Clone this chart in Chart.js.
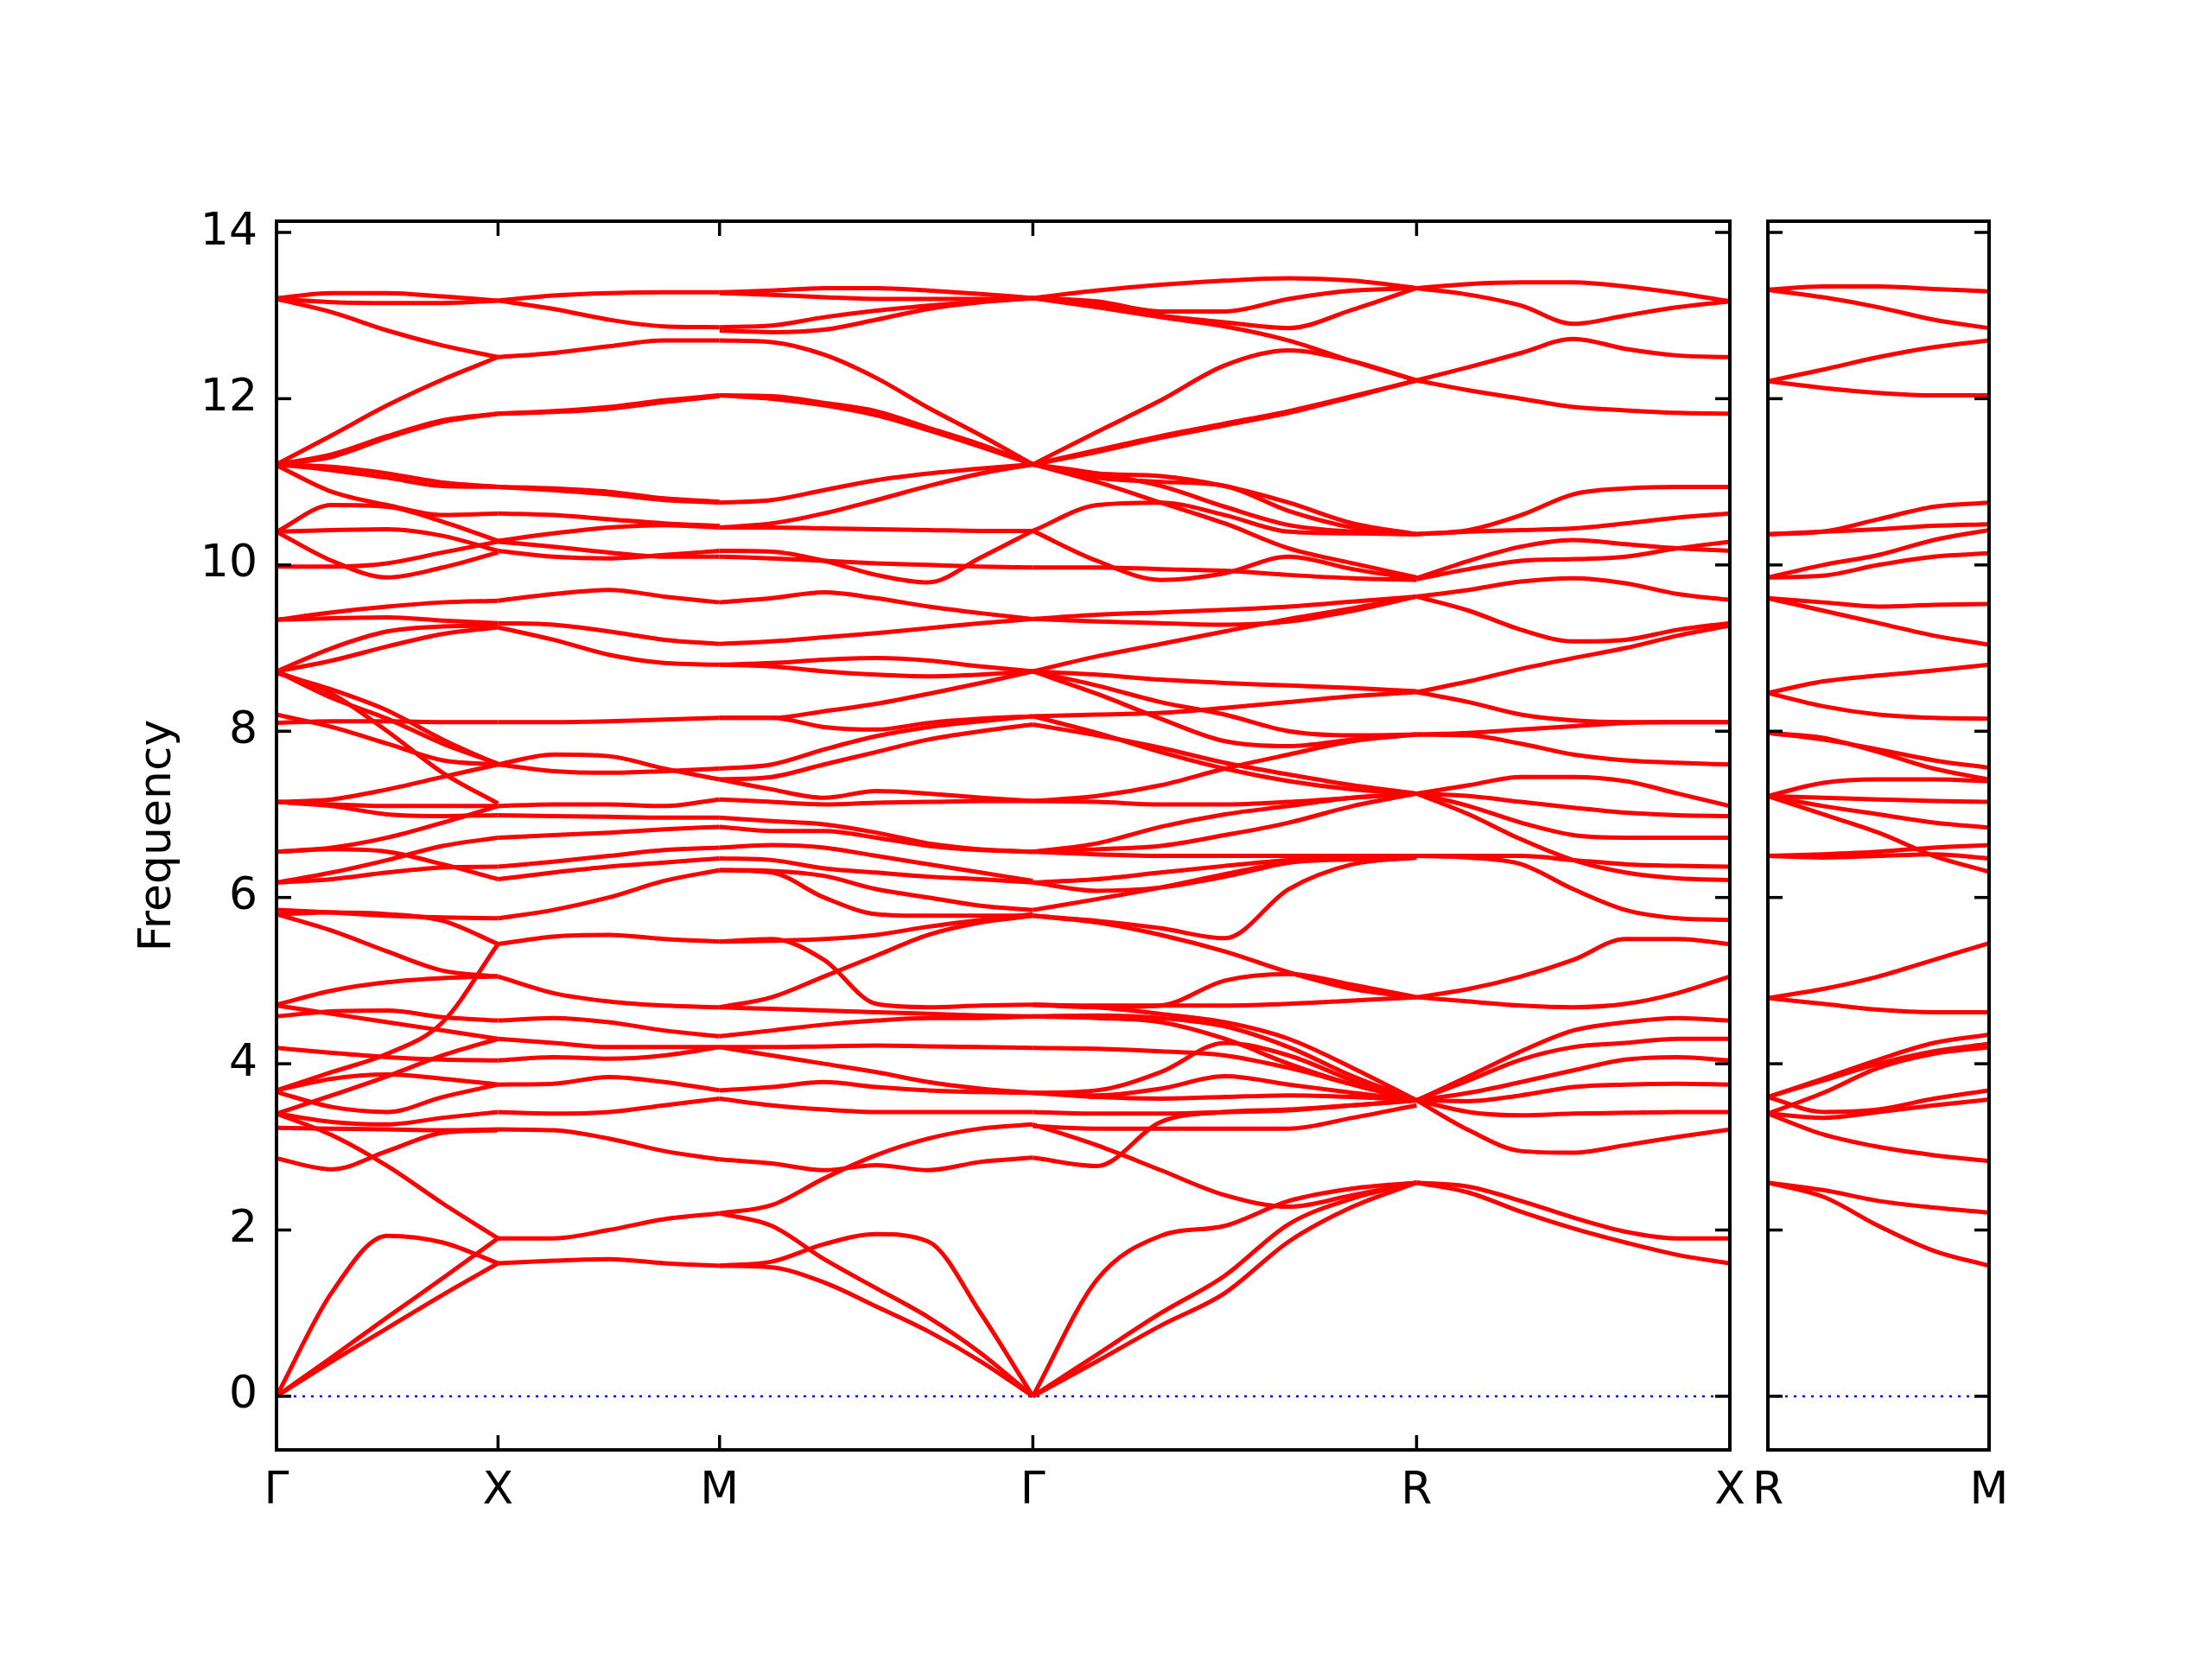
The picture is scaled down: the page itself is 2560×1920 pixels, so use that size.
<!DOCTYPE html>
<html>
<head>
<meta charset="utf-8">
<script src="https://cdn.jsdelivr.net/npm/chart.js@4.4.0/dist/chart.umd.min.js"></script>
<style>
body { margin: 0; background: #fff; }
#wrap { position: relative; width: 2560px; height: 1920px; }
canvas { position: absolute; left: 0; top: 0; }
</style>
</head>
<body>
<div id="wrap">
<canvas id="mainChart" width="2560" height="1920"></canvas>
<canvas id="sideChart" width="2560" height="1920"></canvas>
</div>
<script>
'use strict';
// high symmetry path
let mainLabels = ['Γ', 'X', 'M', 'Γ', 'R', 'X'];
let mainSegLength = [1, 1, Math.SQRT2, Math.sqrt(3), Math.SQRT2];
let sideLabels = ['R', 'M'];
let sideSegLength = [1];
let freqTicks = [0, 2, 4, 6, 8, 10, 12, 14];

// each band: frequencies read at evenly spaced points along the segment
let gammaX = [
    [13.21, 13.27, 13.27, 13.23, 13.18],
    [13.2, 13.16, 13.15, 13.15, 13.18],
    [13.2, 13.04, 12.82, 12.64, 12.5],
    [11.21, 11.56, 11.92, 12.23, 12.5],
    [11.21, 11.33, 11.55, 11.74, 11.82],
    [11.21, 11.3, 11.53, 11.72, 11.82],
    [11.21, 11.18, 11.1, 10.99, 10.94],
    [11.21, 11.14, 11.05, 10.95, 10.94],
    [11.2, 10.88, 10.72, 10.6, 10.62],
    [10.4, 10.72, 10.7, 10.52, 10.29],
    [10.4, 10.42, 10.43, 10.35, 10.17],
    [10.4, 10.05, 9.85, 9.97, 10.15],
    [9.98, 9.98, 10.02, 10.15, 10.28],
    [9.34, 9.43, 9.5, 9.55, 9.57],
    [9.34, 9.36, 9.37, 9.33, 9.3],
    [8.72, 9.0, 9.2, 9.26, 9.27],
    [8.72, 8.85, 9.02, 9.17, 9.25],
    [8.72, 8.4, 8.15, 7.85, 7.61],
    [8.7, 8.5, 8.25, 7.9, 7.6],
    [8.72, 8.45, 8.0, 7.5, 7.13],
    [8.2, 8.05, 7.85, 7.65, 7.6],
    [8.1, 8.12, 8.12, 8.11, 8.11],
    [7.15, 7.18, 7.3, 7.45, 7.6],
    [7.15, 7.12, 7.1, 7.1, 7.1],
    [7.15, 7.1, 7.0, 6.98, 6.99],
    [6.55, 6.6, 6.72, 6.9, 7.1],
    [6.55, 6.58, 6.55, 6.4, 6.22],
    [6.18, 6.3, 6.45, 6.62, 6.72],
    [6.18, 6.22, 6.3, 6.36, 6.37],
    [5.85, 5.82, 5.78, 5.76, 5.75],
    [5.8, 5.82, 5.8, 5.72, 5.44],
    [5.8, 5.6, 5.35, 5.12, 5.05],
    [4.71, 4.88, 4.98, 5.03, 5.05],
    [4.57, 4.63, 4.64, 4.56, 4.52],
    [4.7, 4.6, 4.5, 4.4, 4.3],
    [4.19, 4.13, 4.08, 4.05, 4.04],
    [3.68, 3.9, 4.12, 4.5, 5.44],
    [3.4, 3.62, 3.85, 4.1, 4.3],
    [3.68, 3.82, 3.87, 3.82, 3.75],
    [3.66, 3.48, 3.42, 3.6, 3.75],
    [3.23, 3.22, 3.21, 3.2, 3.21],
    [3.4, 3.14, 2.77, 2.32, 1.9],
    [2.86, 2.73, 2.95, 3.17, 3.2],
    [3.4, 3.3, 3.27, 3.35, 3.42],
    [0, 0.47, 0.95, 1.42, 1.9],
    [0, 0.42, 0.82, 1.22, 1.6],
    [0, 1.25, 1.93, 1.85, 1.6]
];

let xM = [
    [13.18, 13.24, 13.27, 13.28, 13.28],
    [13.18, 13.08, 12.95, 12.87, 12.86],
    [12.5, 12.55, 12.63, 12.7, 12.7],
    [11.82, 11.85, 11.9, 11.98, 12.04],
    [11.82, 11.84, 11.88, 11.96, 12.03],
    [10.94, 10.92, 10.88, 10.8, 10.76],
    [10.94, 10.9, 10.85, 10.78, 10.75],
    [10.62, 10.6, 10.55, 10.5, 10.47],
    [10.29, 10.38, 10.45, 10.48, 10.45],
    [10.17, 10.1, 10.08, 10.12, 10.17],
    [10.28, 10.22, 10.15, 10.1, 10.1],
    [9.57, 9.65, 9.7, 9.62, 9.55],
    [9.3, 9.28, 9.2, 9.1, 9.05],
    [9.25, 9.1, 8.92, 8.82, 8.8],
    [8.11, 8.11, 8.12, 8.14, 8.16],
    [7.6, 7.72, 7.7, 7.55, 7.42],
    [7.6, 7.52, 7.5, 7.52, 7.55],
    [7.1, 7.12, 7.12, 7.1, 7.18],
    [6.99, 6.98, 6.97, 6.96, 6.96],
    [6.72, 6.75, 6.78, 6.82, 6.85],
    [6.37, 6.43, 6.5, 6.57, 6.6],
    [6.22, 6.3, 6.37, 6.42, 6.47],
    [5.75, 5.85, 6.0, 6.2, 6.33],
    [5.44, 5.53, 5.55, 5.5, 5.47],
    [5.05, 4.85, 4.75, 4.7, 4.68],
    [4.52, 4.55, 4.5, 4.4, 4.33],
    [4.3, 4.25, 4.2, 4.2, 4.2],
    [4.04, 4.08, 4.06, 4.1, 4.2],
    [3.75, 3.76, 3.84, 3.78, 3.68],
    [3.42, 3.4, 3.42, 3.5, 3.58],
    [3.21, 3.2, 3.1, 2.95, 2.85],
    [1.9, 1.9, 2.0, 2.13, 2.2],
    [1.6, 1.63, 1.65, 1.6, 1.57]
];

let mGamma = [
    [13.28, 13.3, 13.33, 13.33, 13.3, 13.26, 13.21],
    [13.27, 13.25, 13.22, 13.2, 13.2, 13.2, 13.21],
    [12.86, 12.88, 12.98, 13.06, 13.12, 13.17, 13.21],
    [12.82, 12.8, 12.83, 12.95, 13.08, 13.16, 13.21],
    [12.7, 12.68, 12.53, 12.25, 11.89, 11.56, 11.21],
    [12.04, 12.03, 11.95, 11.85, 11.65, 11.45, 11.21],
    [12.04, 12.0, 11.92, 11.8, 11.62, 11.42, 11.21],
    [10.75, 10.78, 10.9, 11.02, 11.1, 11.16, 11.21],
    [10.45, 10.5, 10.62, 10.78, 10.95, 11.1, 11.21],
    [10.45, 10.45, 10.44, 10.43, 10.42, 10.41, 10.41],
    [10.17, 10.16, 10.05, 9.88, 9.79, 10.09, 10.41],
    [10.1, 10.08, 10.05, 10.02, 10.0, 9.98, 9.97],
    [9.55, 9.6, 9.67, 9.6, 9.5, 9.42, 9.35],
    [9.05, 9.08, 9.13, 9.18, 9.24, 9.3, 9.35],
    [8.8, 8.82, 8.86, 8.88, 8.85, 8.78, 8.72],
    [8.8, 8.78, 8.72, 8.68, 8.66, 8.68, 8.72],
    [8.16, 8.16, 8.24, 8.33, 8.45, 8.58, 8.72],
    [8.16, 8.16, 8.05, 8.02, 8.1, 8.15, 8.18],
    [7.55, 7.6, 7.78, 7.94, 8.05, 8.12, 8.18],
    [7.42, 7.45, 7.6, 7.75, 7.9, 8.0, 8.08],
    [7.42, 7.3, 7.2, 7.28, 7.25, 7.2, 7.16],
    [7.18, 7.15, 7.12, 7.14, 7.15, 7.16, 7.16],
    [6.96, 6.92, 6.88, 6.78, 6.65, 6.58, 6.55],
    [6.85, 6.8, 6.8, 6.72, 6.62, 6.57, 6.55],
    [6.6, 6.63, 6.6, 6.5, 6.4, 6.3, 6.2],
    [6.47, 6.45, 6.35, 6.3, 6.25, 6.22, 6.18],
    [6.33, 6.32, 6.26, 6.1, 6.0, 5.9, 5.85],
    [6.33, 6.3, 6.0, 5.8, 5.78, 5.78, 5.78],
    [5.47, 5.48, 5.5, 5.55, 5.65, 5.73, 5.8],
    [5.47, 5.5, 5.25, 4.72, 4.68, 4.7, 4.71],
    [4.68, 4.8, 5.05, 5.3, 5.55, 5.7, 5.78],
    [4.68, 4.66, 4.64, 4.62, 4.6, 4.58, 4.57],
    [4.33, 4.4, 4.47, 4.52, 4.55, 4.55, 4.57],
    [4.2, 4.2, 4.21, 4.22, 4.21, 4.2, 4.19],
    [4.2, 4.1, 4.0, 3.9, 3.78, 3.7, 3.65],
    [3.68, 3.72, 3.78, 3.72, 3.68, 3.66, 3.65],
    [3.58, 3.5, 3.45, 3.42, 3.42, 3.42, 3.42],
    [2.85, 2.8, 2.72, 2.78, 2.72, 2.82, 2.87],
    [2.2, 2.3, 2.62, 2.9, 3.1, 3.22, 3.27],
    [2.2, 2.05, 1.65, 1.3, 0.95, 0.52, 0],
    [1.57, 1.55, 1.37, 1.08, 0.78, 0.42, 0],
    [1.57, 1.62, 1.83, 1.95, 1.86, 1.0, 0]
];

let gammaR = [
    [13.21, 13.3, 13.37, 13.42, 13.45, 13.42, 13.33],
    [13.21, 13.17, 13.05, 13.05, 13.2, 13.3, 13.33],
    [13.21, 13.13, 13.0, 12.92, 12.85, 13.07, 13.33],
    [13.21, 13.1, 12.98, 12.87, 12.7, 12.45, 12.22],
    [11.21, 11.6, 11.98, 12.4, 12.58, 12.45, 12.22],
    [11.21, 11.38, 11.55, 11.7, 11.85, 12.03, 12.22],
    [11.21, 11.36, 11.53, 11.68, 11.83, 12.02, 12.22],
    [11.21, 11.1, 10.95, 10.7, 10.48, 10.4, 10.37],
    [11.21, 11.05, 11.0, 10.95, 10.65, 10.45, 10.37],
    [11.21, 11.1, 11.07, 10.95, 10.75, 10.5, 10.37],
    [11.21, 11.0, 10.75, 10.5, 10.2, 10.02, 9.85],
    [10.41, 10.72, 10.75, 10.6, 10.4, 10.38, 10.37],
    [10.41, 10.05, 9.82, 9.9, 10.1, 9.95, 9.83],
    [9.97, 9.97, 9.95, 9.93, 9.88, 9.84, 9.82],
    [9.35, 9.4, 9.43, 9.46, 9.5, 9.56, 9.62],
    [9.35, 9.32, 9.3, 9.28, 9.32, 9.45, 9.62],
    [8.72, 8.9, 9.05, 9.2, 9.35, 9.48, 9.62],
    [8.72, 8.68, 8.62, 8.58, 8.55, 8.52, 8.48],
    [8.72, 8.55, 8.35, 8.2, 8.0, 7.95, 7.96],
    [8.72, 8.45, 8.15, 7.88, 7.82, 7.9, 7.96],
    [8.18, 8.2, 8.22, 8.28, 8.35, 8.42, 8.47],
    [8.08, 7.95, 7.8, 7.62, 7.48, 7.35, 7.25],
    [8.18, 7.98, 7.75, 7.55, 7.4, 7.3, 7.25],
    [7.16, 7.22, 7.35, 7.55, 7.72, 7.88, 7.96],
    [7.16, 7.15, 7.12, 7.12, 7.15, 7.2, 7.25],
    [6.55, 6.65, 6.85, 7.0, 7.1, 7.2, 7.25],
    [6.55, 6.58, 6.62, 6.75, 6.9, 7.1, 7.25],
    [6.18, 6.08, 6.12, 6.25, 6.42, 6.5, 6.5],
    [6.18, 6.22, 6.3, 6.38, 6.45, 6.48, 6.5],
    [6.55, 6.52, 6.5, 6.5, 6.5, 6.5, 6.5],
    [5.78, 5.72, 5.63, 5.51, 6.1, 6.4, 6.48],
    [5.85, 5.98, 6.12, 6.28, 6.42, 6.46, 6.48],
    [5.78, 5.7, 5.55, 5.35, 5.1, 4.9, 4.8],
    [4.71, 4.68, 4.7, 5.0, 5.08, 4.95, 4.8],
    [4.71, 4.7, 4.7, 4.7, 4.72, 4.76, 4.8],
    [4.57, 4.55, 4.5, 4.3, 4.0, 3.75, 3.56],
    [4.57, 4.58, 4.55, 4.45, 4.2, 3.85, 3.56],
    [4.71, 4.68, 4.6, 4.5, 4.3, 3.95, 3.56],
    [4.19, 4.18, 4.15, 4.1, 3.95, 3.75, 3.56],
    [3.65, 3.68, 3.9, 4.25, 4.1, 3.8, 3.56],
    [3.65, 3.62, 3.7, 3.85, 3.75, 3.65, 3.56],
    [3.65, 3.6, 3.58, 3.6, 3.62, 3.6, 3.56],
    [3.42, 3.4, 3.4, 3.42, 3.44, 3.5, 3.56],
    [3.25, 3.22, 3.22, 3.22, 3.22, 3.35, 3.5],
    [2.87, 2.77, 3.3, 3.42, 3.45, 3.5, 3.56],
    [3.27, 3.02, 2.72, 2.42, 2.28, 2.42, 2.57],
    [0, 1.4, 1.93, 2.05, 2.35, 2.5, 2.57],
    [0, 0.5, 1.0, 1.45, 2.07, 2.38, 2.57],
    [0, 0.42, 0.85, 1.24, 1.86, 2.28, 2.57]
];

let rX = [
    [13.33, 13.38, 13.4, 13.4, 13.35, 13.27, 13.17],
    [13.33, 13.25, 13.12, 12.9, 13.0, 13.1, 13.17],
    [12.22, 12.38, 12.55, 12.72, 12.6, 12.52, 12.5],
    [12.22, 12.1, 12.0, 11.9, 11.86, 11.83, 11.82],
    [10.37, 10.42, 10.6, 10.85, 10.92, 10.94, 10.94],
    [10.37, 10.4, 10.42, 10.44, 10.5, 10.57, 10.62],
    [9.83, 9.95, 10.05, 10.07, 10.1, 10.2, 10.28],
    [9.84, 10.05, 10.22, 10.3, 10.25, 10.2, 10.17],
    [9.62, 9.7, 9.8, 9.84, 9.78, 9.65, 9.58],
    [9.62, 9.45, 9.22, 9.08, 9.1, 9.22, 9.3],
    [8.47, 8.6, 8.75, 8.88, 9.0, 9.15, 9.27],
    [8.47, 8.35, 8.2, 8.13, 8.11, 8.11, 8.11],
    [7.96, 7.98, 8.02, 8.06, 8.1, 8.11, 8.11],
    [7.96, 7.95, 7.85, 7.72, 7.65, 7.62, 7.6],
    [7.25, 7.35, 7.45, 7.45, 7.4, 7.25, 7.1],
    [7.25, 7.22, 7.15, 7.08, 7.02, 6.99, 6.98],
    [7.25, 7.1, 6.9, 6.75, 6.72, 6.72, 6.72],
    [7.25, 7.0, 6.7, 6.45, 6.3, 6.23, 6.21],
    [6.5, 6.5, 6.5, 6.45, 6.4, 6.38, 6.37],
    [6.5, 6.48, 6.4, 6.1, 5.85, 5.75, 5.73],
    [4.8, 4.9, 5.05, 5.25, 5.5, 5.5, 5.44],
    [4.8, 4.75, 4.7, 4.68, 4.72, 4.85, 5.05],
    [3.56, 3.85, 4.15, 4.4, 4.5, 4.55, 4.52],
    [3.56, 3.8, 4.05, 4.2, 4.25, 4.3, 4.3],
    [3.56, 3.65, 3.78, 3.92, 4.05, 4.08, 4.04],
    [3.56, 3.55, 3.62, 3.72, 3.75, 3.76, 3.75],
    [3.56, 3.42, 3.38, 3.4, 3.41, 3.42, 3.42],
    [3.56, 3.2, 2.95, 2.93, 3.02, 3.12, 3.21],
    [2.57, 2.52, 2.35, 2.15, 1.98, 1.9, 1.9],
    [2.57, 2.45, 2.22, 2.02, 1.85, 1.7, 1.6]
];

let rM = [
    [13.31, 13.35, 13.35, 13.32, 13.29],
    [13.31, 13.22, 13.1, 12.95, 12.85],
    [12.21, 12.35, 12.5, 12.62, 12.7],
    [12.21, 12.13, 12.07, 12.04, 12.04],
    [10.37, 10.4, 10.55, 10.7, 10.75],
    [10.37, 10.4, 10.43, 10.47, 10.49],
    [9.85, 10.0, 10.12, 10.3, 10.42],
    [9.85, 9.87, 10.0, 10.1, 10.14],
    [9.6, 9.55, 9.5, 9.52, 9.53],
    [9.6, 9.45, 9.3, 9.15, 9.04],
    [8.46, 8.6, 8.67, 8.73, 8.8],
    [8.46, 8.3, 8.2, 8.16, 8.15],
    [7.98, 7.9, 7.78, 7.65, 7.56],
    [7.98, 7.92, 7.75, 7.55, 7.42],
    [7.22, 7.38, 7.42, 7.42, 7.4],
    [7.22, 7.2, 7.18, 7.16, 7.15],
    [7.22, 7.1, 7.0, 6.9, 6.84],
    [7.22, 7.0, 6.78, 6.5, 6.31],
    [6.5, 6.52, 6.55, 6.6, 6.63],
    [6.5, 6.48, 6.5, 6.52, 6.47],
    [4.79, 4.9, 5.05, 5.25, 5.45],
    [4.79, 4.72, 4.65, 4.62, 4.62],
    [3.6, 3.82, 4.05, 4.25, 4.35],
    [3.6, 3.8, 4.0, 4.15, 4.24],
    [3.4, 3.65, 3.95, 4.12, 4.2],
    [3.6, 3.42, 3.45, 3.58, 3.68],
    [3.4, 3.35, 3.42, 3.5, 3.57],
    [3.4, 3.15, 3.0, 2.9, 2.83],
    [2.57, 2.48, 2.35, 2.27, 2.21],
    [2.57, 2.4, 2.05, 1.75, 1.57]
];

let mainSegments = [gammaX, xM, mGamma, gammaR, rX];
let sideSegments = [rM];

function cumulative(lengths) {
    let pos = [0];
    for (let i = 0; i < lengths.length; i++) {
        pos.push(pos[i] + lengths[i]);
    }
    return pos;
}

function bandDatasets(segments, kPos) {
    let sets = [];
    for (let s = 0; s < segments.length; s++) {
        let start = kPos[s];
        let len = kPos[s + 1] - start;
        segments[s].forEach(function (band) {
            sets.push({
                data: band.map(function (v, i) {
                    return { x: start + len * i / (band.length - 1), y: v };
                }),
                showLine: true,
                borderColor: '#ff0000',
                borderWidth: 5,
                pointRadius: 0,
                fill: false,
                cubicInterpolationMode: 'monotone'
            });
        });
    }
    // zero line
    sets.push({
        data: [{ x: kPos[0], y: 0 }, { x: kPos[kPos.length - 1], y: 0 }],
        showLine: true,
        borderColor: '#0000ff',
        borderWidth: 2.5,
        borderDash: [3, 7],
        pointRadius: 0,
        fill: false
    });
    return sets;
}

// matplotlib-like frame with inward ticks
let framePlugin = {
    id: 'frame',
    afterDatasetsDraw(chart) {
        let ctx = chart.ctx;
        let a = chart.chartArea;
        let xs = chart.scales.x;
        let ys = chart.scales.y;
        function seg(x1, y1, x2, y2) {
            ctx.beginPath();
            ctx.moveTo(x1, y1);
            ctx.lineTo(x2, y2);
            ctx.stroke();
        }
        ctx.save();
        ctx.strokeStyle = '#000';
        ctx.lineWidth = 3.5;
        ys.ticks.forEach(function (t) {
            let py = ys.getPixelForValue(t.value);
            seg(a.left, py, a.left + 17, py);
            seg(a.right, py, a.right - 17, py);
        });
        xs.ticks.forEach(function (t) {
            let px = xs.getPixelForValue(t.value);
            seg(px, a.bottom, px, a.bottom - 17);
            seg(px, a.top, px, a.top + 17);
        });
        ctx.lineWidth = 4;
        ctx.strokeRect(a.left, a.top, a.right - a.left, a.bottom - a.top);
        ctx.restore();
    }
};

let tickFont = { family: 'DejaVu Sans', size: 52 };

function makeChart(canvasId, segments, segLength, labels, area, showY) {
    let kPos = cumulative(segLength);
    let ctx = document.getElementById(canvasId).getContext('2d');
    return new Chart(ctx, {
        type: 'scatter',
        data: { datasets: bandDatasets(segments, kPos) },
        options: {
            responsive: false,
            animation: false,
            devicePixelRatio: 1,
            layout: {
                padding: { left: 0, top: area.top, right: 2560 - area.right, bottom: 1920 - area.bottom - 120 }
            },
            plugins: { legend: { display: false }, tooltip: { enabled: false } },
            scales: {
                x: {
                    type: 'linear',
                    min: kPos[0],
                    max: kPos[kPos.length - 1],
                    grid: { display: false, drawTicks: false },
                    border: { display: false },
                    afterBuildTicks: function (scale) {
                        scale.ticks = kPos.map(function (v) { return { value: v }; });
                    },
                    afterFit: function (scale) { scale.height = 120; },
                    ticks: {
                        autoSkip: false,
                        maxRotation: 0,
                        padding: 17,
                        color: '#000',
                        font: tickFont,
                        callback: function (value, index) { return labels[index]; }
                    }
                },
                y: {
                    type: 'linear',
                    min: -0.645,
                    max: 14.135,
                    grid: { display: false, drawTicks: false },
                    border: { display: false },
                    afterBuildTicks: function (scale) {
                        scale.ticks = freqTicks.map(function (v) { return { value: v }; });
                    },
                    afterFit: function (scale) { scale.width = area.left; },
                    ticks: {
                        display: showY,
                        padding: 22,
                        color: '#000',
                        font: tickFont,
                        callback: function (value) { return String(value); }
                    },
                    title: {
                        display: showY,
                        text: 'Frequency',
                        color: '#000',
                        font: tickFont,
                        padding: { top: 152, bottom: 0 }
                    }
                }
            }
        },
        plugins: [framePlugin]
    });
}

makeChart('mainChart', mainSegments, mainSegLength, mainLabels, { left: 320, top: 256, right: 2002, bottom: 1678 }, true);
makeChart('sideChart', sideSegments, sideSegLength, sideLabels, { left: 2046, top: 256, right: 2302, bottom: 1678 }, false);
</script>
</body>
</html>
